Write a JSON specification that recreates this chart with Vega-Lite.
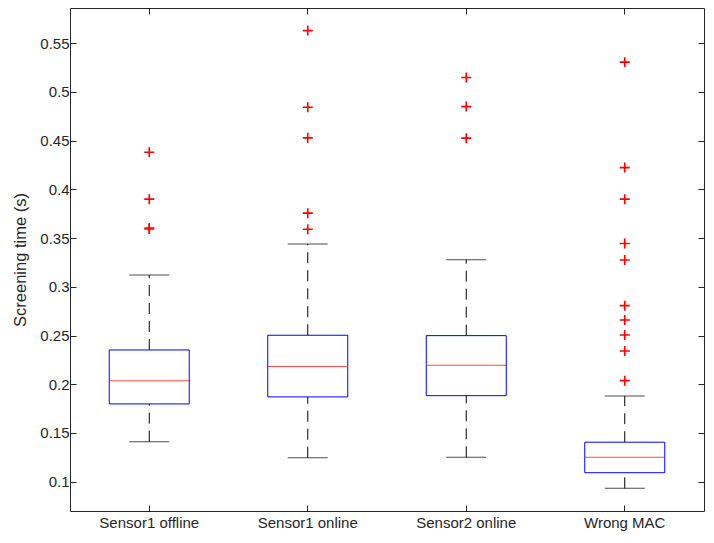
{
  "$schema": "https://vega.github.io/schema/vega-lite/v6.json",
  "width": 634,
  "height": 503,
  "autosize": {"type": "none"},
  "padding": {"left": 70, "top": 8, "right": 10, "bottom": 32},
  "background": "white",
  "config": {
    "view": {"stroke": "#262626", "strokeWidth": 1},
    "font": "Liberation Sans",
    "axis": {
      "grid": false,
      "domain": false,
      "labelFont": "Liberation Sans",
      "labelFontSize": 15,
      "labelColor": "#262626",
      "tickColor": "#262626",
      "tickWidth": 1,
      "titleFont": "Liberation Sans",
      "titleFontWeight": "normal",
      "titleColor": "#262626"
    }
  },
  "datasets": {
    "stats": [
      {"group": "Sensor1 offline", "lw": 0.1411, "q1": 0.1798, "med": 0.2037, "q3": 0.2352, "uw": 0.3122},
      {"group": "Sensor1 online", "lw": 0.1246, "q1": 0.187, "med": 0.2181, "q3": 0.2503, "uw": 0.344},
      {"group": "Sensor2 online", "lw": 0.125, "q1": 0.1883, "med": 0.2195, "q3": 0.2499, "uw": 0.3279},
      {"group": "Wrong MAC", "lw": 0.0932, "q1": 0.1092, "med": 0.125, "q3": 0.1405, "uw": 0.188}
    ],
    "outliers": [
      {"group": "Sensor1 offline", "v": 0.4382},
      {"group": "Sensor1 offline", "v": 0.39},
      {"group": "Sensor1 offline", "v": 0.3594},
      {"group": "Sensor1 offline", "v": 0.3604},
      {"group": "Sensor1 online", "v": 0.563},
      {"group": "Sensor1 online", "v": 0.4844},
      {"group": "Sensor1 online", "v": 0.4529},
      {"group": "Sensor1 online", "v": 0.3756},
      {"group": "Sensor1 online", "v": 0.3591},
      {"group": "Sensor2 online", "v": 0.5148},
      {"group": "Sensor2 online", "v": 0.485},
      {"group": "Sensor2 online", "v": 0.4526},
      {"group": "Wrong MAC", "v": 0.5306},
      {"group": "Wrong MAC", "v": 0.4224},
      {"group": "Wrong MAC", "v": 0.39},
      {"group": "Wrong MAC", "v": 0.3444},
      {"group": "Wrong MAC", "v": 0.3276},
      {"group": "Wrong MAC", "v": 0.2807},
      {"group": "Wrong MAC", "v": 0.266},
      {"group": "Wrong MAC", "v": 0.2506},
      {"group": "Wrong MAC", "v": 0.2342},
      {"group": "Wrong MAC", "v": 0.2037}
    ]
  },
  "resolve": {"axis": {"x": "independent", "y": "independent"}},
  "layer": [
    {
      "data": {"name": "stats"},
      "mark": {"type": "rule", "color": "black", "strokeWidth": 1, "strokeDash": [11, 7]},
      "encoding": {
        "x": {
          "field": "group", "type": "nominal",
          "scale": {"type": "band", "domain": ["Sensor1 offline", "Sensor1 online", "Sensor2 online", "Wrong MAC"], "paddingInner": 0, "paddingOuter": 0},
          "axis": {"orient": "bottom", "title": null, "labelAngle": 0, "tickSize": -6, "labelPadding": 10}
        },
        "y": {
          "field": "q3", "type": "quantitative",
          "scale": {"domain": [0.0699, 0.5862], "nice": false, "zero": false},
          "axis": {"orient": "left", "title": "Screening time (s)", "titleFontSize": 16.5, "titlePadding": 11,
                   "values": [0.1, 0.15, 0.2, 0.25, 0.3, 0.35, 0.4, 0.45, 0.5, 0.55], "format": ".2~f",
                   "tickSize": -6, "labelPadding": 7}
        },
        "y2": {"field": "uw"}
      }
    },
    {
      "data": {"name": "stats"},
      "mark": {"type": "rule", "color": "black", "strokeWidth": 1, "strokeDash": [11, 7]},
      "encoding": {
        "x": {"field": "group", "type": "nominal",
              "axis": {"orient": "top", "title": null, "labels": false, "tickSize": -6}},
        "y": {"field": "lw", "type": "quantitative",
              "axis": {"orient": "right", "title": null, "labels": false, "tickSize": -6,
                       "values": [0.1, 0.15, 0.2, 0.25, 0.3, 0.35, 0.4, 0.45, 0.5, 0.55]}},
        "y2": {"field": "q1"}
      }
    },
    {
      "data": {"name": "stats"},
      "mark": {"type": "tick", "color": "black", "size": 40, "thickness": 1},
      "encoding": {
        "x": {"field": "group", "type": "nominal", "axis": null},
        "y": {"field": "uw", "type": "quantitative", "axis": null}
      }
    },
    {
      "data": {"name": "stats"},
      "mark": {"type": "tick", "color": "black", "size": 40, "thickness": 1},
      "encoding": {
        "x": {"field": "group", "type": "nominal", "axis": null},
        "y": {"field": "lw", "type": "quantitative", "axis": null}
      }
    },
    {
      "data": {"name": "stats"},
      "mark": {"type": "bar", "width": 80, "fill": "white", "fillOpacity": 0, "stroke": "#0000FF", "strokeWidth": 1},
      "encoding": {
        "x": {"field": "group", "type": "nominal", "axis": null},
        "y": {"field": "q1", "type": "quantitative", "axis": null},
        "y2": {"field": "q3"}
      }
    },
    {
      "data": {"name": "stats"},
      "mark": {"type": "tick", "color": "#FF0000", "size": 80, "thickness": 1},
      "encoding": {
        "x": {"field": "group", "type": "nominal", "axis": null},
        "y": {"field": "med", "type": "quantitative", "axis": null}
      }
    },
    {
      "data": {"name": "outliers"},
      "mark": {"type": "point", "shape": "M-1,0L1,0M0,-1L0,1", "filled": false, "stroke": "#FF0000", "strokeWidth": 1.6, "size": 100, "opacity": 1},
      "encoding": {
        "x": {"field": "group", "type": "nominal", "axis": null},
        "y": {"field": "v", "type": "quantitative", "axis": null}
      }
    }
  ]
}
